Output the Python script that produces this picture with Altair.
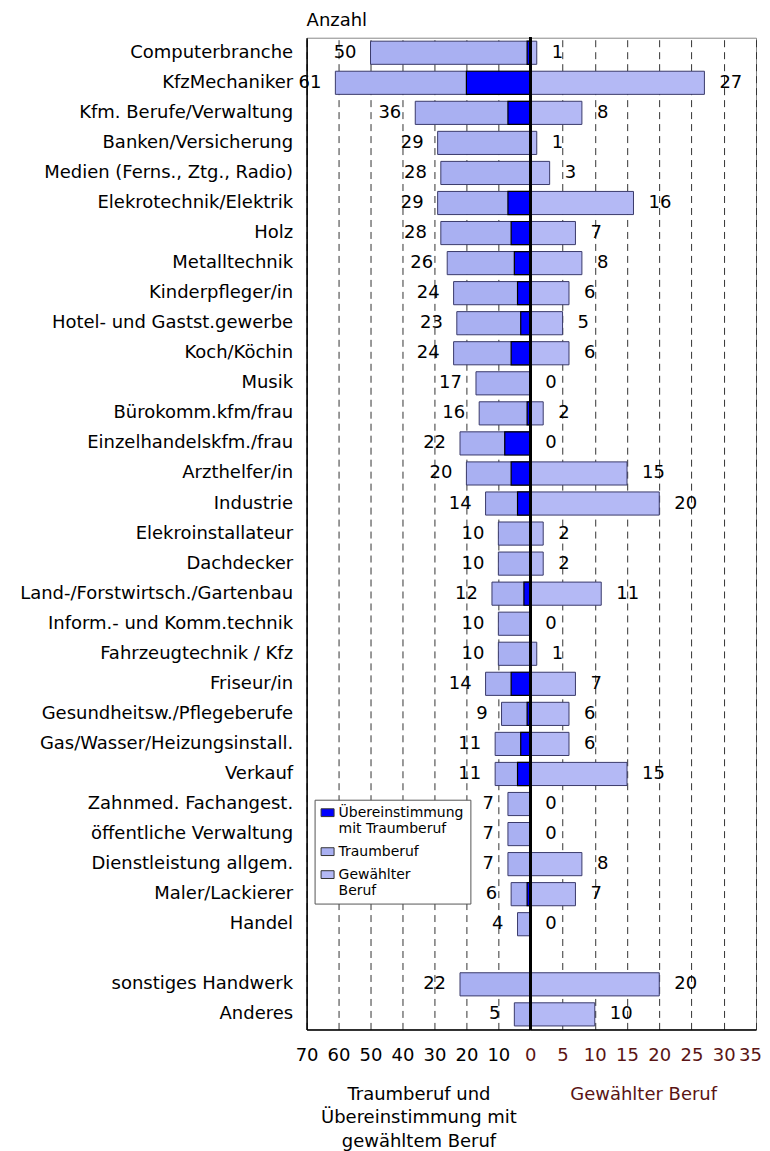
import altair as alt
import pandas as pd

categories = [
    "Computerbranche", "KfzMechaniker", "Kfm. Berufe/Verwaltung", "Banken/Versicherung",
    "Medien (Ferns., Ztg., Radio)", "Elekrotechnik/Elektrik", "Holz", "Metalltechnik",
    "Kinderpfleger/in", "Hotel- und Gastst.gewerbe", "Koch/Köchin", "Musik",
    "Bürokomm.kfm/frau", "Einzelhandelskfm./frau", "Arzthelfer/in", "Industrie",
    "Elekroinstallateur", "Dachdecker", "Land-/Forstwirtsch./Gartenbau",
    "Inform.- und Komm.technik", "Fahrzeugtechnik / Kfz", "Friseur/in",
    "Gesundheitsw./Pflegeberufe", "Gas/Wasser/Heizungsinstall.", "Verkauf",
    "Zahnmed. Fachangest.", "öffentliche Verwaltung", "Dienstleistung allgem.",
    "Maler/Lackierer", "Handel", " ", "sonstiges Handwerk", "Anderes",
]
traumberuf = [50, 61, 36, 29, 28, 29, 28, 26, 24, 23, 24, 17, 16, 22, 20, 14, 10, 10, 12, 10,
              10, 14, 9, 11, 11, 7, 7, 7, 6, 4, None, 22, 5]
gewaehlt = [1, 27, 8, 1, 3, 16, 7, 8, 6, 5, 6, 0, 2, 0, 15, 20, 2, 2, 11, 0,
            1, 7, 6, 6, 15, 0, 0, 8, 7, 0, None, 20, 10]
uebereinstimmung = [1, 20, 7, 0, 0, 7, 6, 5, 4, 3, 6, 0, 1, 8, 6, 4, 0, 0, 2, 0,
                    0, 6, 1, 3, 4, 0, 0, 0, 1, 0, None, 0, 0]

left_ticks = [10, 20, 30, 40, 50, 60, 70]
right_ticks = [0, 5, 10, 15, 20, 25, 30, 35]

SER_U = "Übereinstimmung mit Traumberuf"
SER_T = "Traumberuf"
SER_G = "Gewählter Beruf"
series_domain = [SER_U, SER_T, SER_G]
series_colors = ["#0000ff", "#a9b0f2", "#b4b9f5"]

rows = []
for c, t, g, u in zip(categories, traumberuf, gewaehlt, uebereinstimmung):
    if t is None:
        continue
    rows.append({"cat": c, "traum": t, "gew": g, "ueber": u})
df = pd.DataFrame(rows)

FONT = "DejaVu Sans"
RED = "#5a1414"

yscale = alt.Scale(domain=categories, paddingInner=0.23, paddingOuter=0.115)

y_left = alt.Y(
    "cat:N", scale=yscale,
    axis=alt.Axis(title=None, labelFontSize=18, labelPadding=14, ticks=False,
                  domain=True, domainColor="black", domainWidth=1.5,
                  labelLimit=400, minExtent=298, labelColor="black", grid=False),
)
y_right = alt.Y("cat:N", scale=yscale, axis=None)

color_scale = alt.Scale(domain=series_domain, range=series_colors)

legend = alt.Legend(
    title=None, orient="none", legendX=8, legendY=763, direction="vertical",
    fillColor="white", strokeColor="#555", padding=6,
    labelFontSize=14, labelFont=FONT, labelColor="black",
    symbolType="M-1,-0.6H1V0.6H-1Z", symbolSize=169,
    symbolStrokeColor="#333", symbolStrokeWidth=1, symbolOpacity=1,
    rowPadding=9,
    labelExpr="datum.label == 'Übereinstimmung mit Traumberuf' ? ['Übereinstimmung', ' mit Traumberuf'] : datum.label == 'Gewählter Beruf' ? ['Gewählter', 'Beruf'] : datum.label",
)

x_left_axis = alt.Axis(
    values=left_ticks, title=["Traumberuf  und", "Übereinstimmung mit", "gewähltem Beruf"],
    grid=True, gridDash=[7, 5], gridColor="#333", gridWidth=1,
    tickSize=0, ticks=False, labelPadding=17, labelFontSize=18, labelFlush=False,
    labelOverlap=False, labelColor="black",
    titleFontSize=18, titleFontWeight="normal", titleLineHeight=23.5, titlePadding=21,
    titleColor="black", domainColor="black", domainWidth=1.5,
)
x_left_scale = alt.Scale(domain=[0, 70], reverse=True, nice=False)

left_base = alt.Chart(df)

left_traum = left_base.transform_calculate(series=f"'{SER_T}'").mark_bar(
    stroke="#3a3a6a", strokeWidth=1
).encode(
    x=alt.X("traum:Q", scale=x_left_scale, axis=x_left_axis),
    y=y_left,
    fill=alt.Fill("series:N", scale=color_scale, legend=legend),
)

left_ueber = left_base.transform_filter("datum.ueber > 0").transform_calculate(
    series=f"'{SER_U}'"
).mark_bar(stroke="black", strokeWidth=1.2).encode(
    x=alt.X("ueber:Q", scale=x_left_scale, axis=x_left_axis),
    y=y_left,
    fill=alt.Fill("series:N", scale=color_scale, legend=legend),
)

left_text = left_base.mark_text(
    align="right", baseline="middle", dx=-14, fontSize=18, font=FONT, color="black"
).encode(
    x=alt.X("traum:Q", scale=x_left_scale, axis=x_left_axis),
    y=y_left,
    text="traum:Q",
)

left = alt.layer(left_traum, left_ueber, left_text).properties(
    width=224, height=993,
    title=alt.TitleParams("Anzahl", anchor="start", frame="group", fontSize=18,
                          fontWeight="normal", font=FONT, color="black", offset=8),
)

x_right_axis = alt.Axis(
    values=right_ticks, title="Gewählter Beruf",
    grid=True, gridDash=[7, 5], gridColor="#333", gridWidth=1,
    tickSize=0, ticks=False, labelPadding=17, labelFontSize=18, labelFlush=False,
    labelOverlap=False, labelColor=RED, labelAlign="center",
    labelOffset={"condition": {"test": "datum.value == 35", "value": -6}, "value": 0},
    titleFontSize=18, titleFontWeight="normal", titlePadding=21, titleColor=RED,
    domainColor="black", domainWidth=1.5,
)
x_right_scale = alt.Scale(domain=[0, 35], nice=False)

right_base = alt.Chart(df)

right_gew = right_base.transform_calculate(series=f"'{SER_G}'").mark_bar(
    stroke="#3a3a6a", strokeWidth=1
).encode(
    x=alt.X("gew:Q", scale=x_right_scale, axis=x_right_axis),
    y=y_right,
    fill=alt.Fill("series:N", scale=color_scale, legend=None),
)

right_text = right_base.mark_text(
    align="left", baseline="middle", dx=15, fontSize=18, font=FONT, color="black"
).encode(
    x=alt.X("gew:Q", scale=x_right_scale, axis=x_right_axis),
    y=y_right,
    text="gew:Q",
)

center_rule = right_base.mark_rule(color="black", strokeWidth=2).encode(
    x=alt.datum(0, scale=x_right_scale, axis=x_right_axis)
)

right = alt.layer(right_gew, right_text, center_rule).properties(width=226, height=993)

chart = alt.hconcat(left, right, spacing=0, bounds="flush").resolve_scale(
    fill="independent"
).properties(
    padding={"left": 0, "top": 2, "right": 0, "bottom": 0}
).configure(
    font=FONT, background="white"
).configure_view(
    stroke="#888", strokeWidth=1
)

chart.save("out.html", embed_options={"renderer": "svg", "actions": False})
